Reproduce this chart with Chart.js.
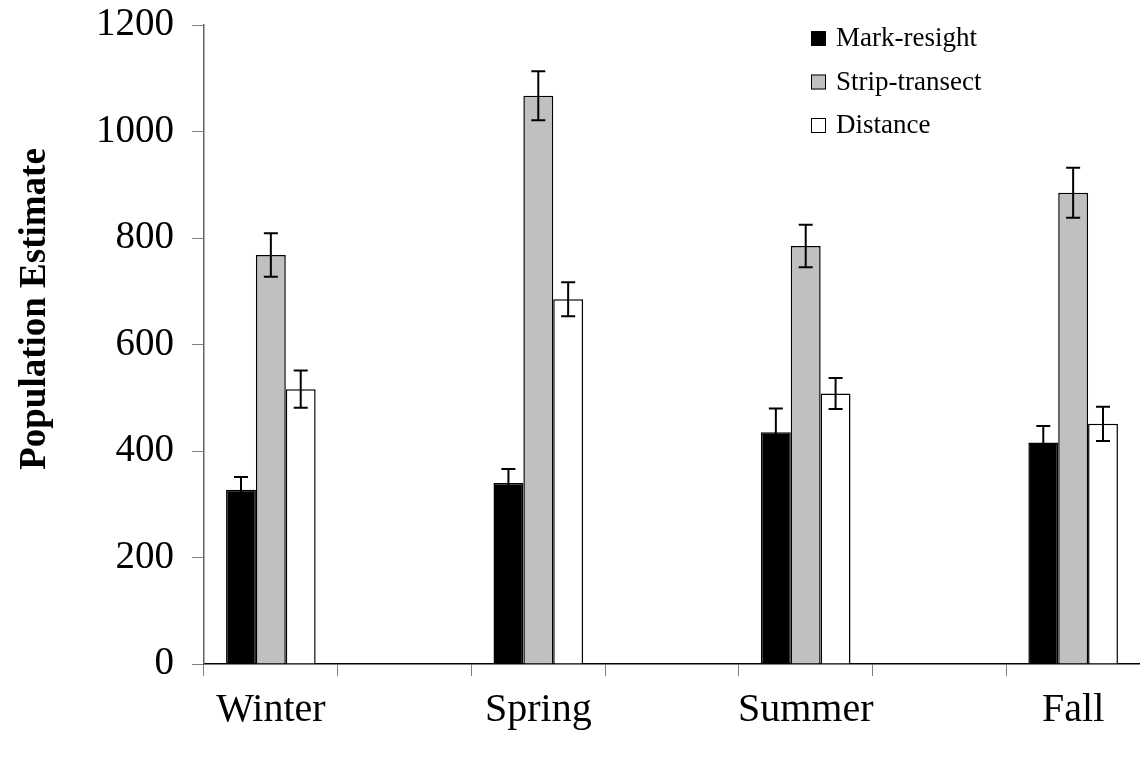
<!DOCTYPE html>
<html>
<head>
<meta charset="utf-8">
<script src="https://cdn.jsdelivr.net/npm/chart.js@4/dist/chart.umd.min.js"></script>
<style>
  html, body { margin: 0; padding: 0; background: #ffffff; }
  #chart_box { position: relative; width: 1140px; height: 761px; }
</style>
</head>
<body>
<div id="chart_box"><canvas id="canvas"></canvas></div>
<script>
//-------------------
// data
//-------------------
var seasons = ["Winter", "Spring", "Summer", "Fall"];
var seriesNames = ["Mark-resight", "Strip-transect", "Distance"];

var markResight = [327, 340, 435, 416];
var markResightErr = [24, 26, 45, 31];
var stripTransect = [768, 1067, 785, 885];
var stripTransectErr = [41, 46, 40, 47];
var distance = [516, 685, 508, 451];
var distanceErr = [35, 32, 29, 32];

var yTicks = [0, 200, 400, 600, 800, 1000, 1200];

// seasons sit in every other slot of the x axis, with empty slots between
function spread(arr, blank) {
    var out = [];
    for (var i = 0; i < arr.length; i++) {
        out.push(arr[i]);
        if (i < arr.length - 1) out.push(blank);
    }
    return out;
}

var serif = "'Liberation Serif', 'Times New Roman', serif";

// error bars drawn over the bars
var errorBars = {
    id: 'errorBars',
    afterDatasetsDraw: function (chart) {
        var ctx = chart.ctx;
        var y = chart.scales.y;
        ctx.save();
        ctx.strokeStyle = '#000';
        ctx.lineWidth = 2;
        chart.data.datasets.forEach(function (ds, di) {
            var meta = chart.getDatasetMeta(di);
            meta.data.forEach(function (bar, i) {
                var v = ds.data[i], e = ds.errors[i];
                if (v == null || e == null) return;
                var top = y.getPixelForValue(v + e);
                var bot = y.getPixelForValue(v - e);
                ctx.beginPath();
                ctx.moveTo(bar.x, top); ctx.lineTo(bar.x, bot);
                ctx.moveTo(bar.x - 7, top); ctx.lineTo(bar.x + 7, top);
                ctx.moveTo(bar.x - 7, bot); ctx.lineTo(bar.x + 7, bot);
                ctx.stroke();
            });
        });
        ctx.restore();
    }
};

// legend in the upper right of the plot, and the rotated y title
var insideLegend = {
    id: 'insideLegend',
    afterDraw: function (chart) {
        var ctx = chart.ctx;
        ctx.save();
        ctx.font = "27px " + serif;
        ctx.textBaseline = 'middle';
        ctx.textAlign = 'left';
        chart.data.datasets.forEach(function (ds, i) {
            var cy = 38 + i * 43.5;
            ctx.fillStyle = ds.backgroundColor;
            ctx.fillRect(811, cy - 7, 15, 15);
            ctx.strokeStyle = '#000';
            ctx.lineWidth = 1;
            ctx.strokeRect(811.5, cy - 6.5, 14, 14);
            ctx.fillStyle = '#000';
            ctx.fillText(ds.label, 836, cy + 1);
        });

        ctx.font = "bold 37px " + serif;
        ctx.textAlign = 'center';
        ctx.translate(35, 309);
        ctx.rotate(-Math.PI / 2);
        ctx.fillText("Population Estimate", 0, 0);
        ctx.restore();
    }
};

var ctx = document.getElementById('canvas').getContext('2d');
var chart = new Chart(ctx, {
    type: 'bar',
    data: {
        labels: spread(seasons, ""),
        datasets: [{
            label: seriesNames[0],
            data: spread(markResight, null),
            errors: spread(markResightErr, null),
            backgroundColor: '#000000',
            borderColor: '#000000',
            borderWidth: 1.5
        }, {
            label: seriesNames[1],
            data: spread(stripTransect, null),
            errors: spread(stripTransectErr, null),
            backgroundColor: '#c0c0c0',
            borderColor: '#000000',
            borderWidth: 1.5
        }, {
            label: seriesNames[2],
            data: spread(distance, null),
            errors: spread(distanceErr, null),
            backgroundColor: '#ffffff',
            borderColor: '#000000',
            borderWidth: 1.5
        }]
    },
    options: {
        responsive: true,
        maintainAspectRatio: false,
        animation: false,
        categoryPercentage: 0.67,
        barPercentage: 1.0,
        layout: { padding: { top: 25, right: 0, bottom: 0, left: 0 } },
        plugins: {
            legend: { display: false },
            tooltip: { enabled: false }
        },
        scales: {
            x: {
                grid: {
                    offset: true,
                    drawOnChartArea: false,
                    drawTicks: true,
                    tickLength: 12,
                    color: '#808080'
                },
                border: { color: '#000000', width: 1.5 },
                ticks: {
                    autoSkip: false,
                    maxRotation: 0,
                    padding: 10,
                    color: '#000000',
                    font: { family: serif, size: 40 }
                },
                afterFit: function (scale) { scale.height = 97; }
            },
            y: {
                min: 0,
                max: 1200,
                afterBuildTicks: function (scale) {
                    scale.ticks = yTicks.map(function (v) { return { value: v }; });
                },
                grid: {
                    drawOnChartArea: false,
                    drawTicks: true,
                    tickLength: 12,
                    color: '#808080'
                },
                border: { color: '#606060', width: 1.5 },
                ticks: {
                    padding: 18,
                    color: '#000000',
                    font: { family: serif, size: 39 },
                    callback: function (v) { return String(v); }
                },
                afterFit: function (scale) {
                    scale.width = 204;
                    scale.paddingTop = 0;
                    scale.paddingBottom = 0;
                }
            }
        }
    },
    plugins: [errorBars, insideLegend]
});
</script>
</body>
</html>
